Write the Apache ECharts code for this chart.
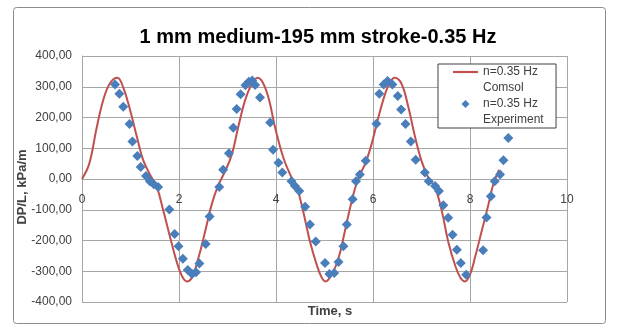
<!DOCTYPE html>
<html>
<head>
<meta charset="utf-8">
<script src="https://cdn.jsdelivr.net/npm/echarts@6/dist/echarts.min.js"></script>
<style>
  html, body { margin: 0; padding: 0; background: #fff; }
  #chart { width: 619px; height: 328px; }
</style>
</head>
<body>
<div id="chart"></div>
<script>
// Simulated pressure gradient (COMSOL), time in s, DP/L in kPa/m
const comsolTime = [0, 0.15, 0.30, 0.44, 0.58, 0.73, 0.85, 0.99, 1.13, 1.26, 1.40, 1.54, 1.68, 1.81, 1.95, 2.06, 2.16, 2.26, 2.40, 2.54, 2.67, 2.81, 2.95, 3.09, 3.22, 3.36, 3.50, 3.62, 3.74, 3.86, 3.98, 4.15, 4.29, 4.43, 4.56, 4.70, 4.84, 4.94, 5.02, 5.15, 5.29, 5.42, 5.56, 5.70, 5.84, 5.97, 6.11, 6.25, 6.35, 6.45, 6.59, 6.73, 6.87, 7.00, 7.14, 7.28, 7.42, 7.55, 7.69, 7.80, 7.90, 8.00, 8.10, 8.24, 8.38, 8.48, 8.60];
const comsolDpl = [0, 50, 165, 258, 312, 329, 298, 225, 138, 62, 15, -25, -105, -185, -268, -315, -333, -322, -257, -170, -85, -20, 25, 80, 168, 255, 309, 329, 310, 255, 168, 70, 15, -28, -105, -203, -279, -320, -333, -311, -257, -170, -72, 4, 50, 113, 200, 277, 315, 329, 309, 233, 135, 59, 4, -28, -105, -203, -279, -320, -333, -311, -257, -170, -83, -17, 30];

// Measured pressure gradient (experiment)
const expTime = [0.68, 0.77, 0.85, 0.98, 1.04, 1.14, 1.21, 1.32, 1.40, 1.48, 1.57, 1.80, 1.91, 1.99, 2.08, 2.18, 2.27, 2.35, 2.42, 2.55, 2.63, 2.83, 2.91, 3.03, 3.12, 3.19, 3.27, 3.37, 3.44, 3.51, 3.57, 3.67, 3.88, 3.94, 4.05, 4.13, 4.32, 4.39, 4.48, 4.60, 4.70, 4.82, 5.01, 5.10, 5.20, 5.29, 5.39, 5.46, 5.58, 5.65, 5.73, 5.85, 6.07, 6.13, 6.22, 6.30, 6.40, 6.51, 6.58, 6.67, 6.78, 6.88, 7.07, 7.15, 7.28, 7.36, 7.45, 7.55, 7.64, 7.73, 7.81, 7.92, 8.27, 8.34, 8.43, 8.51, 8.62, 8.69, 8.79];
const expDpl = [307, 277, 235, 179, 122, 75, 39, 10, -7, -17, -26, -99, -179, -219, -259, -296, -309, -303, -275, -211, -122, -26, 30, 84, 167, 228, 276, 305, 316, 320, 306, 265, 184, 95, 53, 21, -7, -23, -39, -90, -148, -203, -273, -309, -306, -270, -219, -148, -66, -7, 15, 59, 180, 277, 307, 319, 307, 270, 226, 179, 122, 63, 21, -7, -23, -39, -85, -126, -181, -230, -273, -311, -232, -125, -56, -7, 15, 61, 133];

// Legend entries: first line beside the key, second line underneath
const seriesNames = ['n=0.35 Hz Comsol', 'n=0.35 Hz Experiment'];
const legendFirstLine = ['n=0.35 Hz', 'n=0.35 Hz'];
const legendSecondLine = ['Comsol', 'Experiment'];

const titleText = '1 mm medium-195 mm stroke-0.35 Hz';
const xTitle = 'Time, s';
const yTitle = 'DP/L, kPa/m';

const yMin = -400, yMax = 400, yStep = 100;
const xMin = 0, xMax = 10, xStep = 2;

const gridColor = '#a6a6a6';
const textColor = '#404040';
const fontFamily = '"Liberation Sans", Arial, sans-serif';

// Plot box
const gridTop = 56, gridBottom = 26, chartHeight = 328;
const plotHeight = chartHeight - gridTop - gridBottom;
// the time axis sits on the DP/L = 0 line
const zeroOffset = -plotHeight * (0 - yMin) / (yMax - yMin);

// Legend box geometry
const legendLeft = 438;
const legendTop = 64;
const legendPadLeft = 15;
const legendKeyWidth = 25;
const legendRow = 16;

const chart = echarts.init(document.getElementById('chart'), null, { renderer: 'canvas' });

chart.setOption({
  animation: false,
  backgroundColor: '#ffffff',
  title: {
    text: titleText,
    left: 318,
    top: 27,
    padding: 0,
    textAlign: 'center',
    textStyle: { fontFamily, fontSize: 20, fontWeight: 'bold', color: '#000' }
  },
  graphic: [
    {
      type: 'rect',
      shape: { x: 13.5, y: 7.5, width: 592, height: 316, r: 3 },
      style: { fill: 'none', stroke: '#8c8c8c', lineWidth: 1 },
      z: -1
    },
    ...legendSecondLine.map((txt, i) => ({
      type: 'text',
      left: legendLeft + legendPadLeft + legendKeyWidth + 5,
      top: legendTop + legendRow * (2 * i + 1),
      z: 200,
      style: { text: txt, fontFamily, fontSize: 12, fill: textColor, lineHeight: legendRow }
    }))
  ],
  grid: { left: 82, right: 52, top: gridTop, bottom: gridBottom, outerBoundsMode: 'none', containLabel: false },
  legend: {
    orient: 'vertical',
    left: legendLeft,
    top: legendTop,
    padding: [0, 18, legendRow, legendPadLeft],
    itemGap: legendRow,
    itemWidth: legendKeyWidth,
    itemHeight: 8,
    backgroundColor: '#fff',
    borderColor: '#404040',
    borderWidth: 1,
    symbolKeepAspect: true,
    data: [
      { name: seriesNames[0], icon: 'path://M0,0L25,0L25,2.2L0,2.2Z' },
      { name: seriesNames[1], icon: 'path://M4,0L8,4L4,8L0,4Z' }
    ],
    formatter: name => legendFirstLine[seriesNames.indexOf(name)],
    textStyle: { fontFamily, fontSize: 12, color: textColor, lineHeight: legendRow }
  },
  xAxis: {
    type: 'value',
    position: 'bottom',
    offset: zeroOffset,
    min: xMin, max: xMax, interval: xStep,
    name: xTitle,
    nameLocation: 'middle',
    nameGap: 126,
    nameMoveOverlap: false,
    nameTextStyle: { fontFamily, fontSize: 13, fontWeight: 'bold', color: textColor, padding: [0, 0, 0, 11] },
    axisLine: { onZero: false, lineStyle: { color: gridColor, width: 1 } },
    axisTick: { show: false },
    axisLabel: { fontFamily, fontSize: 12, color: textColor, margin: 15 },
    splitLine: { show: true, lineStyle: { color: gridColor, width: 1 } }
  },
  yAxis: {
    type: 'value',
    min: yMin, max: yMax, interval: yStep,
    name: yTitle,
    nameLocation: 'middle',
    nameGap: 53,
    nameMoveOverlap: false,
    nameTextStyle: { fontFamily, fontSize: 13, fontWeight: 'bold', color: textColor, padding: [0, 16, 0, 0] },
    axisLine: { show: true, onZero: false, lineStyle: { color: gridColor, width: 1 } },
    axisTick: { show: false },
    axisLabel: {
      fontFamily, fontSize: 12, color: textColor, margin: 10,
      formatter: v => v.toFixed(2).replace('.', ',')
    },
    splitLine: { show: true, lineStyle: { color: gridColor, width: 1 } }
  },
  series: [
    {
      name: seriesNames[0],
      type: 'line',
      data: comsolTime.map((t, i) => [t, comsolDpl[i]]),
      symbol: 'none',
      smooth: 0.4,
      lineStyle: { color: '#c0504d', width: 2 },
      itemStyle: { color: '#c0504d' },
      z: 2
    },
    {
      name: seriesNames[1],
      type: 'scatter',
      data: expTime.map((t, i) => [t, expDpl[i]]),
      symbol: 'diamond',
      symbolSize: [10, 10],
      itemStyle: { color: '#4a7ebb', opacity: 1 },
      z: 3
    }
  ]
});
</script>
</body>
</html>
